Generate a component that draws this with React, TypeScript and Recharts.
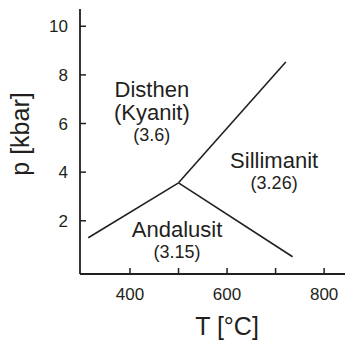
import { LineChart, Line, XAxis, YAxis, ReferenceDot } from "recharts";

// Al2SiO5 phase boundaries (T in °C, p in kbar)
const kyAndT = [314, 500];
const kyAndP = [1.3, 3.56];
const kySilT = [500, 721];
const kySilP = [3.56, 8.53];
const andSilT = [500, 735];
const andSilP = [3.56, 0.52];

const xTicks = [400, 500, 600, 700, 800];
const xLabeled = [400, 600, 800];
const yTicks = [2, 4, 6, 8, 10];

// phase fields: name lines, density, anchor (T, p)
const fieldLines = [["Disthen", "(Kyanit)"], ["Sillimanit"], ["Andalusit"]];
const fieldDensity = ["(3.6)", "(3.26)", "(3.15)"];
const fieldT = [445, 697, 497];
const fieldP = [7.09, 4.17, 1.34];

const INK = "#231f20";
const FONT = "'Liberation Sans', Arial, Helvetica, sans-serif";

const toRows = (ts: number[], ps: number[]) =>
  ts.map((t, i) => ({ t, p: ps[i] }));

function XTick(props: any) {
  const { x, y, payload } = props;
  const v = payload.value;
  return (
    <g>
      <line x1={x} x2={x} y1={y} y2={y - 6} stroke={INK} strokeWidth={1.5} />
      {xLabeled.includes(v) && (
        <text x={x} y={y + 26} textAnchor="middle" fontSize={17} fill={INK} fontFamily={FONT}>
          {v}
        </text>
      )}
    </g>
  );
}

function YTick(props: any) {
  const { x, y, payload } = props;
  return (
    <g>
      <line x1={x} x2={x + 6} y1={y} y2={y} stroke={INK} strokeWidth={1.5} />
      <text x={x - 12} y={y + 6} textAnchor="end" fontSize={17} fill={INK} fontFamily={FONT}>
        {payload.value}
      </text>
    </g>
  );
}

function FieldLabel(index: number) {
  return (props: any) => {
    const { cx, cy } = props;
    const lines = fieldLines[index];
    return (
      <g fontFamily={FONT} fill={INK} textAnchor="middle">
        {lines.map((s, i) => (
          <text key={s} x={cx} y={cy + i * 23} fontSize={22}>
            {s}
          </text>
        ))}
        <text x={cx} y={cy + lines.length * 23 - 2} fontSize={18}>
          {fieldDensity[index]}
        </text>
      </g>
    );
  };
}

export default function App() {
  return (
    <div style={{ position: "absolute", left: 0, top: 0, background: "#fff" }}>
      <LineChart width={345} height={340} margin={{ top: 9, right: 0, left: 0, bottom: 0 }}>
        <XAxis
          type="number"
          dataKey="t"
          domain={[297, 843]}
          ticks={xTicks}
          allowDataOverflow
          height={66}
          tickSize={0}
          tickMargin={0}
          tick={<XTick />}
          axisLine={{ stroke: INK, strokeWidth: 1.8 }}
          label={{
            content: () => (
              <text x={227} y={335} textAnchor="middle" fontSize={25} fill={INK} fontFamily={FONT}>
                T [°C]
              </text>
            ),
          }}
        />
        <YAxis
          type="number"
          dataKey="p"
          domain={[-0.19, 10.71]}
          ticks={yTicks}
          allowDataOverflow
          width={80}
          tickSize={0}
          tickMargin={0}
          tick={<YTick />}
          axisLine={{ stroke: INK, strokeWidth: 1.8 }}
          label={{
            content: () => (
              <text
                x={0}
                y={0}
                transform="translate(29 134) rotate(-90)"
                textAnchor="middle"
                fontSize={25}
                fill={INK}
                fontFamily={FONT}
              >
                p [kbar]
              </text>
            ),
          }}
        />
        <Line data={toRows(kyAndT, kyAndP)} dataKey="p" stroke={INK} strokeWidth={1.6} dot={false} isAnimationActive={false} />
        <Line data={toRows(kySilT, kySilP)} dataKey="p" stroke={INK} strokeWidth={1.6} dot={false} isAnimationActive={false} />
        <Line data={toRows(andSilT, andSilP)} dataKey="p" stroke={INK} strokeWidth={1.6} dot={false} isAnimationActive={false} />
        {fieldT.map((t, i) => (
          <ReferenceDot key={i} x={t} y={fieldP[i]} r={0} shape={FieldLabel(i)} />
        ))}
      </LineChart>
    </div>
  );
}
